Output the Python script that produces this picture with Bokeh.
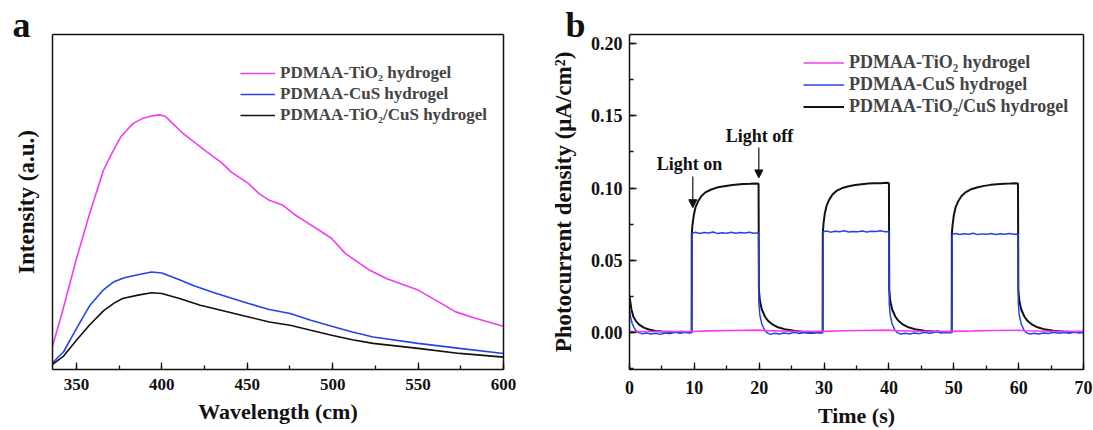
from bokeh.plotting import figure
from bokeh.layouts import row
from bokeh.models import (Legend, LegendItem, SingleIntervalTicker, FixedTicker, LinearAxis, Title,
                          NumeralTickFormatter, Label, Arrow, NormalHead, Range1d)
from bokeh.embed import file_html
from bokeh.resources import INLINE

FONT = "Liberation Serif"
PINK = "#F23CF0"
BLUE = "#2444E6"
BLACK = "#111111"

# ---------------- Panel a data (fluorescence spectra) ----------------
pink_wl = [336, 341.5, 350, 357.7, 365.8, 369.8, 375.9, 383, 388.5, 394, 399, 402, 406, 412,
           426.5, 434.6, 440.7, 450.8, 456.9, 462.9, 471, 477, 483, 495, 499.4, 507.5, 521.7,
           531.8, 550, 562, 572, 584, 600]
pink_int = [0.070, 0.167, 0.330, 0.465, 0.594, 0.636, 0.694, 0.734, 0.749, 0.757, 0.760, 0.756,
            0.736, 0.706, 0.649, 0.619, 0.589, 0.555, 0.525, 0.505, 0.490, 0.465, 0.445, 0.406,
            0.391, 0.346, 0.296, 0.271, 0.237, 0.202, 0.172, 0.152, 0.129]

blue_wl = [336, 342.5, 350, 357.7, 365.8, 372, 378, 386, 394, 400, 410.3, 418.4, 430.6, 450.8,
           462.9, 475.1, 487.2, 499.4, 511.5, 523.7, 550, 574.3, 600]
blue_int = [0.020, 0.053, 0.122, 0.190, 0.238, 0.262, 0.274, 0.283, 0.291, 0.288, 0.268, 0.251,
            0.229, 0.197, 0.179, 0.167, 0.147, 0.129, 0.112, 0.097, 0.078, 0.063, 0.048]

black_wl = [336, 342.5, 350, 357.7, 365.8, 372, 377, 386, 394, 400, 410.3, 422.5, 434.6, 450.8,
            462.9, 475.1, 487.2, 499.4, 511.5, 523.7, 550, 574.3, 600]
black_int = [0.015, 0.040, 0.087, 0.133, 0.175, 0.198, 0.212, 0.222, 0.229, 0.227, 0.212, 0.192,
             0.177, 0.157, 0.142, 0.132, 0.117, 0.102, 0.089, 0.078, 0.063, 0.048, 0.037]

# ---------------- Panel b data (photocurrent) ----------------
black_t = [0, 0.3, 0.6, 1.0, 1.5, 2.2, 3.0, 4.0, 5.0, 6.0, 7.0, 8.0, 9.0, 9.58,
           9.6, 9.7, 9.9, 10.2, 10.6, 11.1, 11.7, 12.6, 13.6, 14.6, 15.6, 16.6, 17.6, 18.6, 19.5, 19.88,
           19.9, 19.95, 20.1, 20.4, 20.9, 21.4, 22.1, 22.9, 23.9, 25.4, 26.9, 28.0, 29.0, 29.78,
           29.8, 29.9, 30.1, 30.4, 30.8, 31.3, 31.9, 32.8, 33.8, 34.8, 35.8, 36.8, 37.8, 38.8, 39.6, 39.98,
           40.0, 40.05, 40.2, 40.5, 41.0, 41.5, 42.2, 43.0, 44.0, 45.5, 47.0, 48.0, 49.0, 49.68,
           49.7, 49.8, 50.0, 50.3, 50.7, 51.2, 51.8, 52.7, 53.7, 54.7, 55.7, 56.7, 57.7, 58.7, 59.5, 59.88,
           59.9, 59.95, 60.1, 60.4, 60.9, 61.4, 62.1, 62.9, 63.9, 65.4, 66.9, 68.0, 69.0, 70.0]
black_j = [0.025, 0.016, 0.011, 0.008, 0.0055, 0.0035, 0.0022, 0.0012, 0.0008, 0.0006, 0.0004, 0.0006, 0.0003, 0.0004,
           0.068, 0.074, 0.081, 0.087, 0.091, 0.0945, 0.097, 0.099, 0.1005, 0.1013, 0.1020, 0.1024, 0.1028, 0.1030, 0.1032, 0.1030,
           0.1030, 0.030, 0.022, 0.016, 0.011, 0.008, 0.0055, 0.0037, 0.0024, 0.0013, 0.0005, -0.0003, 0.0002, 0.0003,
           0.068, 0.075, 0.082, 0.088, 0.092, 0.0955, 0.098, 0.100, 0.1013, 0.1021, 0.1027, 0.1031, 0.1033, 0.1034, 0.1036, 0.1035,
           0.1035, 0.030, 0.022, 0.016, 0.011, 0.008, 0.0055, 0.0037, 0.0024, 0.0013, 0.0007, 0.0004, 0.0005, 0.0004,
           0.068, 0.074, 0.081, 0.087, 0.091, 0.0945, 0.097, 0.0992, 0.1006, 0.1015, 0.1022, 0.1026, 0.1029, 0.1031, 0.1033, 0.1031,
           0.1031, 0.030, 0.022, 0.016, 0.011, 0.008, 0.0055, 0.0037, 0.0024, 0.0013, 0.0007, 0.0004, 0.0005, 0.0003]

blue_t = [0, 0.2, 0.4, 0.7, 1.0, 1.4, 2.0, 2.6, 3.3, 4.0, 4.8, 5.5, 6.3, 7.0, 7.8, 8.6, 9.3, 9.58,
          9.6, 9.65, 10.2, 10.8, 11.5, 12.2, 12.9, 13.6, 14.3, 15.0, 15.7, 16.4, 17.1, 17.8, 18.5, 19.2, 19.88,
          19.9, 19.95, 20.1, 20.4, 20.8, 21.2, 21.7, 22.4, 23.1, 23.8, 24.6, 25.4, 26.2, 27.0, 27.8, 28.6, 29.3, 29.78,
          29.8, 29.85, 30.4, 31.0, 31.7, 32.4, 33.1, 33.8, 34.5, 35.2, 35.9, 36.6, 37.3, 38.0, 38.7, 39.4, 39.98,
          40.0, 40.05, 40.2, 40.5, 40.9, 41.3, 41.8, 42.5, 43.2, 43.9, 44.7, 45.5, 46.3, 47.1, 47.5, 47.9, 48.7, 49.68,
          49.7, 49.75, 50.3, 50.9, 51.6, 52.3, 53.0, 53.7, 54.4, 55.1, 55.8, 56.5, 57.2, 57.9, 58.6, 59.3, 59.88,
          59.9, 59.95, 60.1, 60.4, 60.8, 61.2, 61.7, 62.4, 63.1, 63.8, 64.6, 65.4, 66.2, 67.0, 67.8, 68.6, 69.3, 70.0]
blue_j = [0.016, 0.010, 0.0065, 0.0035, 0.0015, 0.0, -0.0008, -0.0003, -0.0010, -0.0004, -0.0012, -0.0002, -0.0007, 0.0003, -0.0005, 0.0002, -0.0003, 0.0,
          0.0, 0.0688, 0.0694, 0.0686, 0.0692, 0.0689, 0.0696, 0.0685, 0.0691, 0.0688, 0.0694, 0.0687, 0.0692, 0.0689, 0.0695, 0.0688, 0.0690,
          0.0690, 0.020, 0.012, 0.006, 0.002, 0.0, -0.0012, -0.0005, -0.0010, -0.0003, -0.0008, 0.0002, -0.0006, 0.0001, -0.0004, 0.0003, -0.0002, 0.0,
          0.0, 0.0698, 0.0703, 0.0695, 0.0701, 0.0697, 0.0704, 0.0696, 0.0700, 0.0698, 0.0703, 0.0696, 0.0701, 0.0699, 0.0704, 0.0697, 0.0700,
          0.0700, 0.020, 0.012, 0.006, 0.002, 0.0, -0.0010, -0.0004, -0.0009, -0.0002, -0.0007, 0.0002, -0.0005, 0.0003, 0.0015, -0.0002, 0.0001, 0.0,
          0.0, 0.0681, 0.0686, 0.0679, 0.0684, 0.0680, 0.0687, 0.0678, 0.0683, 0.0681, 0.0686, 0.0679, 0.0684, 0.0681, 0.0686, 0.0680, 0.0683,
          0.0683, 0.020, 0.012, 0.006, 0.002, 0.0, -0.0010, -0.0004, -0.0009, -0.0002, -0.0006, 0.0002, -0.0005, 0.0001, -0.0004, 0.0003, -0.0002, 0.0001]

pink_t = [0, 9.6, 12, 16, 19.9, 21, 25, 29.8, 33, 36, 40.0, 41, 45, 49.7, 53, 56, 59.9, 61, 65, 70]
pink_j = [0.0008, 0.0008, 0.0012, 0.0015, 0.0017, 0.0014, 0.0010, 0.0009, 0.0013, 0.0015, 0.0017,
          0.0014, 0.0010, 0.0009, 0.0012, 0.0015, 0.0016, 0.0013, 0.0010, 0.0009]

names = ["PDMAA-TiO\u2082 hydrogel", "PDMAA-CuS hydrogel", "PDMAA-TiO\u2082/CuS hydrogel"]


def style_axes(p, tick_size):
    xa = p.below[0]
    ya = p.left[0]
    for ax in (xa, ya):
        ax.axis_line_color = BLACK
        ax.axis_line_width = 1.5
        ax.major_tick_line_color = BLACK
        ax.minor_tick_line_color = BLACK
        ax.major_tick_line_width = 1.3
        ax.minor_tick_line_width = 1.3
        ax.major_tick_in = 7
        ax.major_tick_out = 0
        ax.minor_tick_in = 4
        ax.minor_tick_out = 0
        ax.major_label_text_font = FONT
        ax.major_label_text_font_style = "bold"
        ax.major_label_text_font_size = tick_size
        ax.major_label_text_color = BLACK
        ax.axis_label_text_font = FONT
        ax.axis_label_text_font_style = "bold"
        ax.axis_label_text_font_size = "22px"
        ax.axis_label_text_color = BLACK
    p.xgrid.visible = False
    p.ygrid.visible = False
    p.outline_line_color = None
    # frame lines on top and right drawn as bare axes (side panels)
    for side in ("above", "right"):
        ax = LinearAxis(ticker=FixedTicker(ticks=[]), major_label_standoff=0,
                        major_tick_in=0, major_tick_out=0, minor_tick_in=0, minor_tick_out=0,
                        axis_line_color=BLACK, axis_line_width=1.5)
        p.add_layout(ax, side)
    return xa, ya


def panel_letter(p, letter, offset):
    p.add_layout(Title(text=letter, align="left", offset=offset, standoff=-20,
                       text_font=FONT, text_font_style="bold", text_font_size="36px",
                       text_color=BLACK), "above")


# ---------------- Panel a ----------------
pa = figure(width=540, height=430, output_backend="svg", toolbar_location=None, title=None,
            x_range=Range1d(336, 600), y_range=Range1d(0, 1),
            min_border_left=52, min_border_right=37, min_border_top=34, min_border_bottom=61)
xa_a, ya_a = style_axes(pa, "17px")
xa_a.ticker = SingleIntervalTicker(interval=50, num_minor_ticks=2)
ya_a.ticker = FixedTicker(ticks=[])
ya_a.major_label_standoff = 0
xa_a.major_label_standoff = 9
xa_a.axis_label = "Wavelength (cm)"
ya_a.axis_label = "Intensity (a.u.)"
ya_a.axis_label_text_font_size = "23px"
xa_a.axis_label_standoff = 6
ya_a.axis_label_standoff = 14
panel_letter(pa, "a", -40)

ra1 = pa.line(pink_wl, pink_int, line_color=PINK, line_width=1.6)
ra2 = pa.line(blue_wl, blue_int, line_color=BLUE, line_width=1.6)
ra3 = pa.line(black_wl, black_int, line_color=BLACK, line_width=1.6)

leg_a = Legend(items=[LegendItem(label=names[0], renderers=[ra1]),
                      LegendItem(label=names[1], renderers=[ra2]),
                      LegendItem(label=names[2], renderers=[ra3])],
               location=(188, 244), padding=0, margin=0, spacing=1,
               glyph_width=35, glyph_height=18, label_height=18, label_standoff=5,
               label_text_font=FONT, label_text_font_style="bold", label_text_font_size="17px",
               border_line_color=None, background_fill_alpha=0)
pa.add_layout(leg_a)

# ---------------- Panel b ----------------
pb = figure(width=553, height=430, output_backend="svg", toolbar_location=None, title=None,
            x_range=Range1d(0, 70), y_range=Range1d(-0.0255, 0.2062),
            min_border_left=89, min_border_right=10, min_border_top=33, min_border_bottom=61)
xa_b, ya_b = style_axes(pb, "18px")
xa_b.ticker = SingleIntervalTicker(interval=10, num_minor_ticks=2)
ya_b.ticker = SingleIntervalTicker(interval=0.05, num_minor_ticks=2)
ya_b.formatter = NumeralTickFormatter(format="0.00")
xa_b.major_label_standoff = 11
ya_b.major_label_standoff = 7
xa_b.axis_label = "Time (s)"
ya_b.axis_label = "Photocurrent density (\u03bcA/cm\u00b2)"
ya_b.axis_label_text_font_size = "23px"
xa_b.axis_label_standoff = 6
ya_b.axis_label_standoff = 12
panel_letter(pb, "b", -64)

rb3 = pb.line(black_t, black_j, line_color=BLACK, line_width=2)
rb2 = pb.line(blue_t, blue_j, line_color=BLUE, line_width=1.5)
rb1 = pb.line(pink_t, pink_j, line_color=PINK, line_width=1.6)

leg_b = Legend(items=[LegendItem(label=names[0], renderers=[rb1]),
                      LegendItem(label=names[1], renderers=[rb2]),
                      LegendItem(label=names[2], renderers=[rb3])],
               location=(174, 252), padding=0, margin=0, spacing=1,
               glyph_width=41, glyph_height=19, label_height=19, label_standoff=5,
               label_text_font=FONT, label_text_font_style="bold", label_text_font_size="18px",
               border_line_color=None, background_fill_alpha=0)
pb.add_layout(leg_b)

pb.add_layout(Label(x=9.25, y=0.1166, text="Light on", text_align="center",
                    text_baseline="alphabetic", text_font=FONT, text_font_style="bold",
                    text_font_size="18px", text_color=BLACK))
pb.add_layout(Label(x=20.04, y=0.1359, text="Light off", text_align="center",
                    text_baseline="alphabetic", text_font=FONT, text_font_style="bold",
                    text_font_size="18px", text_color=BLACK))
pb.add_layout(Arrow(end=NormalHead(size=8, fill_color=BLACK, line_color=BLACK, line_width=1),
                    x_start=9.76, y_start=0.108, x_end=9.76, y_end=0.0864,
                    line_color=BLACK, line_width=1.2))
pb.add_layout(Arrow(end=NormalHead(size=8, fill_color=BLACK, line_color=BLACK, line_width=1),
                    x_start=19.94, y_start=0.128, x_end=19.94, y_end=0.107,
                    line_color=BLACK, line_width=1.2))

layout = row(pa, pb)
open("out.html", "w").write(file_html(layout, INLINE))
